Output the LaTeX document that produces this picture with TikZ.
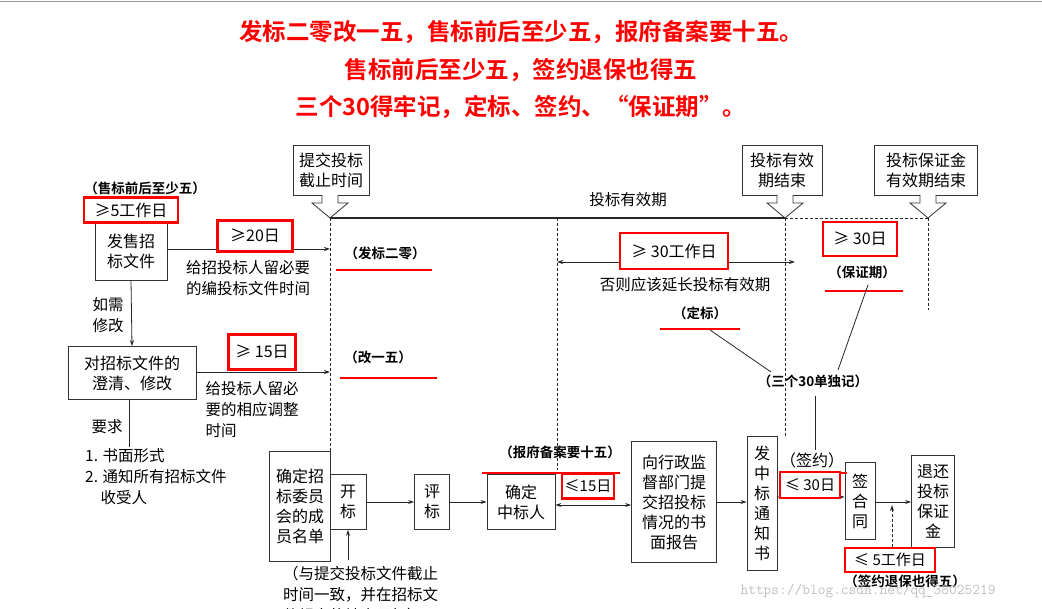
\documentclass[tikz,border=0pt]{standalone}
\usepackage{fontspec}
\newfontfamily\cjk{Noto Sans CJK SC}
\newfontfamily\cjkb{Noto Sans CJK SC Bold}
\usetikzlibrary{arrows.meta}
\tikzset{
 box/.style={draw=black!80,line width=0.8pt,align=center,inner sep=0pt,font=\cjk\fontsize{16}{20}\selectfont},
 red/.style={draw=red,line width=2.2pt},
 txt/.style={font=\cjk\fontsize{15.5}{21}\selectfont,align=left,inner sep=0pt},
 note/.style={font=\cjkb\fontsize{13.5}{15}\selectfont,inner sep=0pt},
 ttl/.style={font=\cjkb\fontsize{23.5}{26}\selectfont,text=red,inner sep=0pt},
 ln/.style={line width=0.8pt,black!85},
 arr/.style={ln,-{Stealth[length=6pt,width=4pt]}},
 darr/.style={ln,{Stealth[length=6pt,width=4pt]}-{Stealth[length=6pt,width=4pt]}},
 dsh/.style={line width=0.9pt,black!85,dash pattern=on 3pt off 2pt},
 rul/.style={red,line width=1.2pt},
 hollow/.style={draw=black!80,line width=0.8pt,fill=white}
}
\begin{document}
\begin{tikzpicture}[x=1pt,y=-1pt]
\useasboundingbox (0,0) rectangle (1042,609);
\fill[white] (0,0) rectangle (1042,609);
\draw[black!40,line width=0.6pt] (0,1)--(1042,1);
\clip (0,0) rectangle (1042,609);
% titles
\node[ttl] (t1) at (521,32) {发标二零改一五，售标前后至少五，报府备案要十五。};
\node[ttl] (t2) at (521,70) {售标前后至少五，签约退保也得五};
\node[ttl] (t3) at (521,107) {三个30得牢记，定标、签约、“保证期”。};
% top boxes
\node[box,minimum width=76pt,minimum height=50pt] (sub) at (331,170) {提交投标\\截止时间};
\node[box,minimum width=80pt,minimum height=50pt] (valend) at (782,170) {投标有效\\期结束};
\node[box,minimum width=103pt,minimum height=50pt] (guarend) at (926,170) {投标保证金\\有效期结束};
\coordinate (p1) at (330,218);
\coordinate (p2) at (785,218);
\coordinate (p3) at (928,218);
\foreach \c/\b in {330/sub,785/valend,928/guarend}{
 \draw[hollow] (\c-8,195)--(\c-8,203)--(\c-18,203)--(\c,218)--(\c+18,203)--(\c+8,203)--(\c+8,195);
}
\draw[ln,line width=1.1pt] (p1)--(p2);
\draw[dsh] (p2)--(p3);
\node[txt] (valp) at (628,200) {投标有效期};
% left column
\node[note] (n1) at (145,188) {（售标前后至少五）};
\node[box,minimum width=72pt,minimum height=58pt] (sell) at (131,251) {发售招\\标文件};
\node[box,minimum width=128pt,minimum height=53pt] (clar) at (132,373) {对招标文件的\\澄清、修改};
\draw[arr] (sell.south)--(clar.north);
\node[txt,align=center] (ifneed) at (108,315) {如需\\修改};
\coordinate (e1) at (330,249);
\coordinate (e2) at (330,372);
\draw[arr] (sell.east|-e1)--(e1);
\draw[arr] (clar.east|-e2)--(e2);
\node[txt] (g1) at (248,278) {给招投标人留必要\\的编投标文件时间};
\node[txt] (g2) at (252,410) {给投标人留必\\要的相应调整\\时间};
\coordinate (req) at (129,447);
\draw[ln] (clar.south -| req)--(req);
\node[txt] (reqt) at (107,427) {要求};
\node[txt,anchor=north west] (reql) at (85,448) {1. 书面形式\\2. 通知所有招标文件\\\hspace*{1em}收受人};
% red boxes top
\node[red,minimum width=94pt,minimum height=25pt,inner sep=0pt,font=\cjk\fontsize{16}{18}\selectfont] (r1) at (131,210) {≥5工作日};
\node[red,minimum width=75pt,minimum height=31pt,inner sep=0pt,fill=white,font=\cjk\fontsize{16}{18}\selectfont] (r2) at (255,236) {≥20日};
\node[red,minimum width=67pt,minimum height=35pt,inner sep=0pt,fill=white,font=\cjk\fontsize{16}{18}\selectfont] (r3) at (262,352) {≥ 15日};
\node[note] (n2) at (385,253) {（发标二零）};
\draw[rul] (336,270)--(432,270);
\node[note] (n3) at (378,357) {（改一五）};
\draw[rul] (340,378)--(437,378);
% vertical dashed lines
\coordinate (v2) at (557,218);
\draw[dsh] (p1)--(330,475);
\draw[dsh] (v2)--(557,470);
\draw[dsh] (p2)--(785,436);
\draw[dsh] (p3)--(928,310);
% 30 working days
\coordinate (a1) at (557,262); \coordinate (a2) at (795,262);
\draw[darr] (a1)--(a2);
\node[red,minimum width=108pt,minimum height=36pt,inner sep=0pt,fill=white,font=\cjk\fontsize{16}{18}\selectfont] (r4) at (674,251) {≥ 30工作日};
\node[txt] (ext) at (685,285) {否则应该延长投标有效期};
\node[red,minimum width=74pt,minimum height=34pt,inner sep=0pt,fill=white,font=\cjk\fontsize{16}{18}\selectfont] (r5) at (860,239) {≥ 30日};
\node[note] (n4) at (862,272) {（保证期）};
\draw[rul] (825,291)--(903,291);
\node[note] (n5) at (700,313) {（定标）};
\draw[rul] (660,329)--(740,329);
\node[note] (n6) at (813,381) {（三个30单独记）};
\draw[ln] (710,330)--(771,372);
\draw[ln] (868,285)--(838,370);
\draw[ln] (815,396)--(815,450);
% bottom row
\node[box,minimum width=61pt,minimum height=110pt] (comm) at (300,506) {确定招\\标委员\\会的成\\员名单};
\node[box,minimum width=36pt,minimum height=55pt] (open) at (348,502) {开\\标};
\node[box,minimum width=35pt,minimum height=55pt] (eval) at (432,502) {评\\标};
\node[box,minimum width=68pt,minimum height=55pt] (win) at (521,502) {确定\\中标人};
\node[box,minimum width=85pt,minimum height=121pt] (rep) at (674,502) {向行政监\\督部门提\\交招投标\\情况的书\\面报告};
\node[box,minimum width=30pt,minimum height=134pt] (notice) at (762,503) {发\\中\\标\\通\\知\\书};
\node[box,minimum width=30pt,minimum height=77pt] (sign) at (860,501) {签\\合\\同};
\node[box,minimum width=43pt,minimum height=92pt] (ret) at (933,501) {退还\\投标\\保证\\金};
\draw[arr] (open)--(eval);
\draw[arr] (eval)--(win);
\draw[darr] (win.east|-0,505)--(rep.west|-0,505);
\draw[arr] (rep.east|-0,502)--(notice.west|-0,502);
\draw[darr] (notice.east|-0,497)--(sign.west|-0,497);
\draw[arr] (sign.east|-0,502)--(ret.west|-0,502);
\coordinate (dd) at (892,547);
\draw[dsh,-{Stealth[length=6pt,width=4pt]}] (dd)--(892,505);
\coordinate (ob) at (348,560);
\draw[arr] (ob)--(open.south);
\node[txt,anchor=north west] (opent) at (283,566) {（与提交投标文件截止\\时间一致，并在招标文\\件规定的地点开标）};
\node[note] (n7) at (560,452) {（报府备案要十五）};
\draw[rul] (482,473)--(620,473);
\draw[rul] (780,473)--(847,473);
\node[font=\cjk\fontsize{16}{18}\selectfont,inner sep=0pt] (qy) at (812,460) {（签约）};
\node[red,minimum width=52pt,minimum height=25pt,inner sep=0pt,fill=white,font=\cjk\fontsize{15}{18}\selectfont] (r6) at (588,486) {≤15日};
\node[red,minimum width=60pt,minimum height=26pt,inner sep=0pt,fill=white,font=\cjk\fontsize{15}{18}\selectfont] (r7) at (810,485) {≤ 30日};
\node[red,minimum width=90pt,minimum height=24pt,inner sep=0pt,fill=white,font=\cjk\fontsize{15}{18}\selectfont] (r8) at (890,560) {≤ 5工作日};
\node[note] (n8) at (905,581) {（签约退保也得五）};
\node[font=\ttfamily\fontsize{15}{16}\selectfont,text=black!25,inner sep=0pt] (wm) at (868,591) {https://blog.csdn.net/qq\_38025219};
\end{tikzpicture}
\end{document}
